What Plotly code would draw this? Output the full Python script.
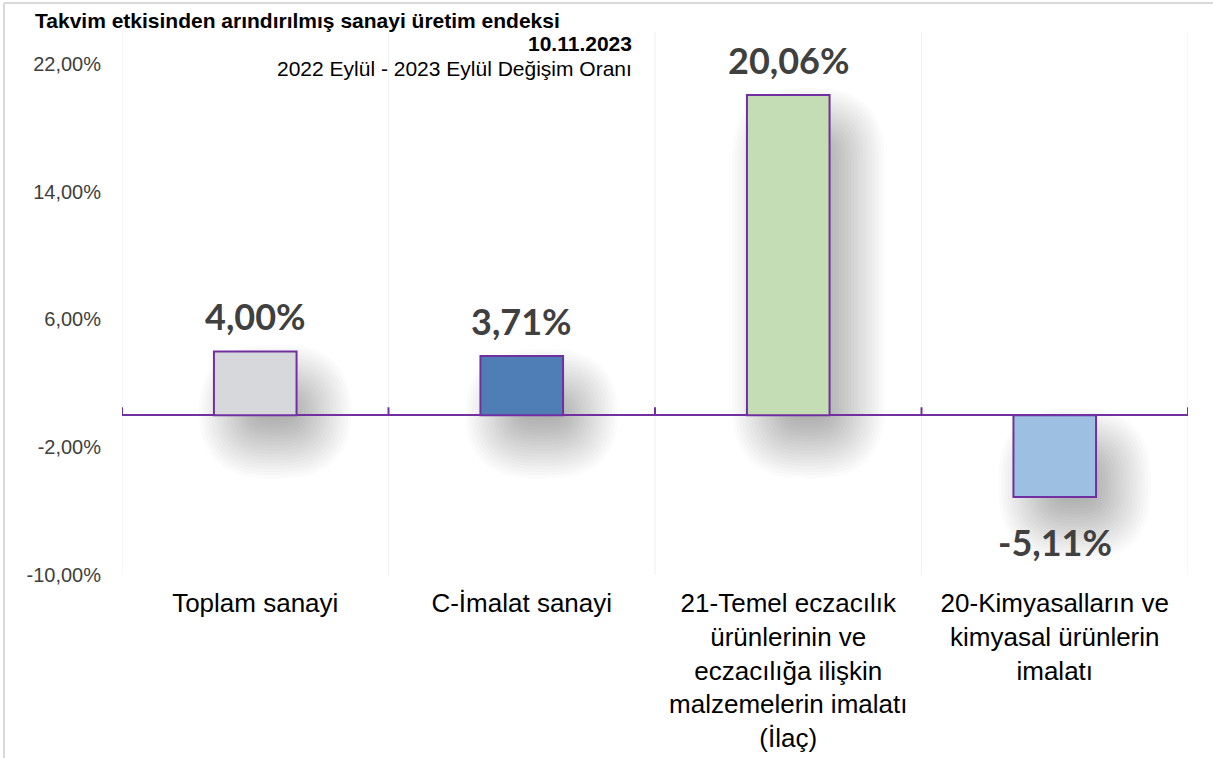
import plotly.graph_objects as go

categories = ["Toplam sanayi", "C-İmalat sanayi",
              "21-Temel eczacılık<br>ürünlerinin ve<br>eczacılığa ilişkin<br>malzemelerin imalatı<br>(İlaç)",
              "20-Kimyasalların ve<br>kimyasal ürünlerin<br>imalatı"]
values = [4.00, 3.71, 20.06, -5.11]
value_labels = ["4,00%", "3,71%", "20,06%", "-5,11%"]
bar_colors = ["#D7D8DB", "#4F7EB6", "#C4DDB4", "#9DBFE2"]
y_ticks = [22, 14, 6, -2, -10]
y_tick_text = ["22,00%", "14,00%", "6,00%", "-2,00%", "-10,00%"]

W, H = 1213, 758
ML, MR, MT, MB = 122, 25, 32, 183
YMIN, YMAX = -10, 24
PW, PH = W - ML - MR, H - MT - MB
px_x = PW / 4.0
px_y = PH / (YMAX - YMIN)
PURPLE = "#7030A0"
BAR_W = 0.31

xs = list(range(len(categories)))

fig = go.Figure()
fig.add_trace(go.Bar(
    x=xs, y=values, width=BAR_W,
    marker=dict(color=bar_colors, line=dict(color=PURPLE, width=2)),
    hoverinfo="skip", showlegend=False,
))

shapes = []

def rounded_path(x0, y0, x1, y1, r):
    rx = r / px_x
    ry = r / px_y
    rx = min(rx, (x1 - x0) / 2)
    ry = min(ry, (y1 - y0) / 2)
    return (f"M {x0+rx},{y0} L {x1-rx},{y0} Q {x1},{y0} {x1},{y0+ry} "
            f"L {x1},{y1-ry} Q {x1},{y1} {x1-rx},{y1} L {x0+rx},{y1} "
            f"Q {x0},{y1} {x0},{y1-ry} L {x0},{y0+ry} Q {x0},{y0} {x0+rx},{y0} Z")

# soft drop shadows (offset bottom-right, blurred by stacking translucent layers)
DX, DY, BLUR, N = 20, 28, 70, 24
for xi, v in zip(xs, values):
    bx0, bx1 = xi - BAR_W / 2, xi + BAR_W / 2
    by0, by1 = min(0, v), max(0, v)
    for k in range(N):
        e = -BLUR / 2 + BLUR * k / (N - 1)
        x0 = bx0 + (DX - e) / px_x
        x1 = bx1 + (DX + e) / px_x
        y0 = by0 - (DY + e) / px_y
        y1 = by1 - (DY - e) / px_y
        if x1 - x0 < 4 / px_x or y1 - y0 < 4 / px_y:
            continue
        shapes.append(dict(type="path", xref="x", yref="y",
                           path=rounded_path(x0, y0, x1, y1, max(e + BLUR / 2, 2)),
                           fillcolor="rgba(0,0,0,0.016)", line=dict(width=0),
                           layer="below"))

# vertical grid lines at category boundaries
for b in [-0.5, 0.5, 1.5, 2.5, 3.5]:
    shapes.append(dict(type="line", xref="x", yref="paper", x0=b, x1=b, y0=0, y1=1,
                       line=dict(color="#F0F0F0", width=1), layer="below"))
    shapes.append(dict(type="line", xref="x", yref="y", x0=b, x1=b, y0=0,
                       y1=8 / px_y, line=dict(color=PURPLE, width=2), layer="above"))

def px_to_paper_x(p):
    return (p - ML) / PW

def px_to_paper_y(p):
    return 1 - (p - MT) / PH

# chart area border (top and left edges visible)
shapes.append(dict(type="line", xref="paper", yref="paper",
                   x0=px_to_paper_x(4), x1=px_to_paper_x(W + 5),
                   y0=px_to_paper_y(3), y1=px_to_paper_y(3),
                   line=dict(color="#D9D9D9", width=2)))
shapes.append(dict(type="line", xref="paper", yref="paper",
                   x0=px_to_paper_x(4), x1=px_to_paper_x(4),
                   y0=px_to_paper_y(3), y1=px_to_paper_y(H + 5),
                   line=dict(color="#D9D9D9", width=2)))

annotations = []
for xi, v, t in zip(xs, values, value_labels):
    annotations.append(dict(x=xi, y=v, xref="x", yref="y", text=f"<b>{t}</b>",
                            showarrow=False, yshift=35 if v >= 0 else -45,
                            font=dict(family="Lato, Carlito, sans-serif", size=36, color="#404040")))

TITLE_SIZE = 21
annotations.append(dict(x=px_to_paper_x(33), y=px_to_paper_y(20), xref="paper", yref="paper",
                        xanchor="left", yanchor="middle", showarrow=False,
                        text="<b>Takvim etkisinden arındırılmış sanayi üretim endeksi</b>",
                        font=dict(family="Arial, Liberation Sans", size=TITLE_SIZE, color="black")))
annotations.append(dict(x=px_to_paper_x(634), y=px_to_paper_y(44), xref="paper", yref="paper",
                        xanchor="right", yanchor="middle", showarrow=False,
                        text="<b>10.11.2023</b>",
                        font=dict(family="Arial, Liberation Sans", size=TITLE_SIZE, color="black")))
annotations.append(dict(x=px_to_paper_x(634), y=px_to_paper_y(68), xref="paper", yref="paper",
                        xanchor="right", yanchor="middle", showarrow=False,
                        text="2022 Eylül - 2023 Eylül Değişim Oranı",
                        font=dict(family="Arial, Liberation Sans", size=TITLE_SIZE, color="black")))

fig.update_layout(
    width=W, height=H,
    margin=dict(l=ML, r=MR, t=MT, b=MB, autoexpand=False),
    paper_bgcolor="white", plot_bgcolor="white",
    font=dict(family="Arial, Liberation Sans"),
    shapes=shapes, annotations=annotations,
    xaxis=dict(range=[-0.5, 3.5], tickvals=xs, ticktext=categories, showgrid=False,
               zeroline=False, showline=False, ticks="", fixedrange=True, automargin=False,
               tickfont=dict(size=26, color="black"), ticklabelstandoff=10),
    yaxis=dict(range=[YMIN, YMAX], tickvals=y_ticks, ticktext=y_tick_text, showgrid=False,
               zeroline=True, zerolinecolor=PURPLE, zerolinewidth=2, showline=False,
               ticks="", tickfont=dict(size=20, color="#404040"), ticklabelstandoff=20,
               fixedrange=True, automargin=False),
)

fig.write_html("out.html", config={"displayModeBar": False},
               post_script="document.body.style.margin='0';")
